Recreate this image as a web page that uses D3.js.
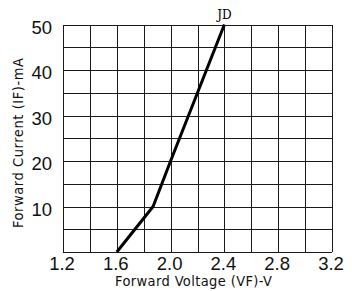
<!DOCTYPE html>
<html>
<head>
<meta charset="utf-8">
<script src="https://cdn.jsdelivr.net/npm/d3@7"></script>
<style>
  body { margin: 0; background: #fff; }
  svg { display: block; }
  .grid line { stroke: #1a1a1a; stroke-width: 1; shape-rendering: crispEdges; }
  .tick-label { font-family: "Liberation Sans", Arial, sans-serif; font-size: 18.5px; fill: #111; }
  .axis-title { font-family: "DejaVu Sans Condensed", "DejaVu Sans", sans-serif; font-size: 14.5px; fill: #111; }
</style>
</head>
<body>
<svg id="chart" width="352" height="291"></svg>
<script>
/* ─── Data ───────────────────────────────────────────────────────────────── */

const voltage = [1.6, 1.87, 2.0, 2.2, 2.4];
const current = [0, 10, 20, 35, 50];
const xTicks = [1.2, 1.6, 2.0, 2.4, 2.8, 3.2];
const yTicks = [10, 20, 30, 40, 50];
const seriesName = 'JD';

/* ─── Layout ─────────────────────────────────────────────────────────────── */

const svg = d3.select('#chart');
const plotLeft = 63, plotRight = 332, plotTop = 24.5, plotBottom = 252;

const x = d3.scaleLinear().domain([1.2, 3.2]).range([plotLeft, plotRight]);
const y = d3.scaleLinear().domain([0, 50]).range([plotBottom, plotTop]);

/* ─── Grid ───────────────────────────────────────────────────────────────── */

const grid = svg.append('g').attr('class', 'grid');

grid.selectAll('line.v')
  .data(d3.range(1.2, 3.2001, 0.2))
  .join('line')
  .attr('class', 'v')
  .attr('x1', d => Math.round(x(d)) + 0.5).attr('x2', d => Math.round(x(d)) + 0.5)
  .attr('y1', y(0)).attr('y2', y(50));

grid.selectAll('line.h')
  .data(d3.range(0, 50.001, 5))
  .join('line')
  .attr('class', 'h')
  .attr('y1', d => Math.round(y(d)) + 0.5).attr('y2', d => Math.round(y(d)) + 0.5)
  .attr('x1', x(1.2)).attr('x2', x(3.2));

/* ─── Tick labels ────────────────────────────────────────────────────────── */

svg.append('g').selectAll('text')
  .data(xTicks)
  .join('text')
  .attr('class', 'tick-label')
  .attr('x', d => x(d) - 1)
  .attr('y', plotBottom + 18)
  .attr('text-anchor', 'middle')
  .text(d => d.toFixed(1));

svg.append('g').selectAll('text')
  .data(yTicks)
  .join('text')
  .attr('class', 'tick-label')
  .attr('x', plotLeft - 11)
  .attr('y', d => y(d) + 9)
  .attr('text-anchor', 'end')
  .text(d => d);

/* ─── Axis titles ────────────────────────────────────────────────────────── */

svg.append('text')
  .attr('class', 'axis-title')
  .attr('x', 115).attr('y', 286)
  .attr('textLength', 157)
  .attr('lengthAdjust', 'spacing')
  .text('Forward Voltage (VF)-V');

svg.append('text')
  .attr('class', 'axis-title')
  .attr('transform', 'translate(23,228) rotate(-90)')
  .attr('textLength', 170)
  .attr('lengthAdjust', 'spacing')
  .text('Forward Current (IF)-mA');

/* ─── Curve ──────────────────────────────────────────────────────────────── */

const line = d3.line()
  .x((d, i) => x(voltage[i]))
  .y((d, i) => y(current[i]));

svg.append('path')
  .datum(voltage)
  .attr('d', line)
  .attr('fill', 'none')
  .attr('stroke', '#000')
  .attr('stroke-width', 3)
  .attr('stroke-linejoin', 'round');

svg.append('text')
  .attr('x', x(2.4)).attr('y', plotTop - 6)
  .attr('text-anchor', 'middle')
  .style('font-family', '"DejaVu Serif", serif')
  .style('font-size', '12px')
  .text(seriesName);
</script>
</body>
</html>
